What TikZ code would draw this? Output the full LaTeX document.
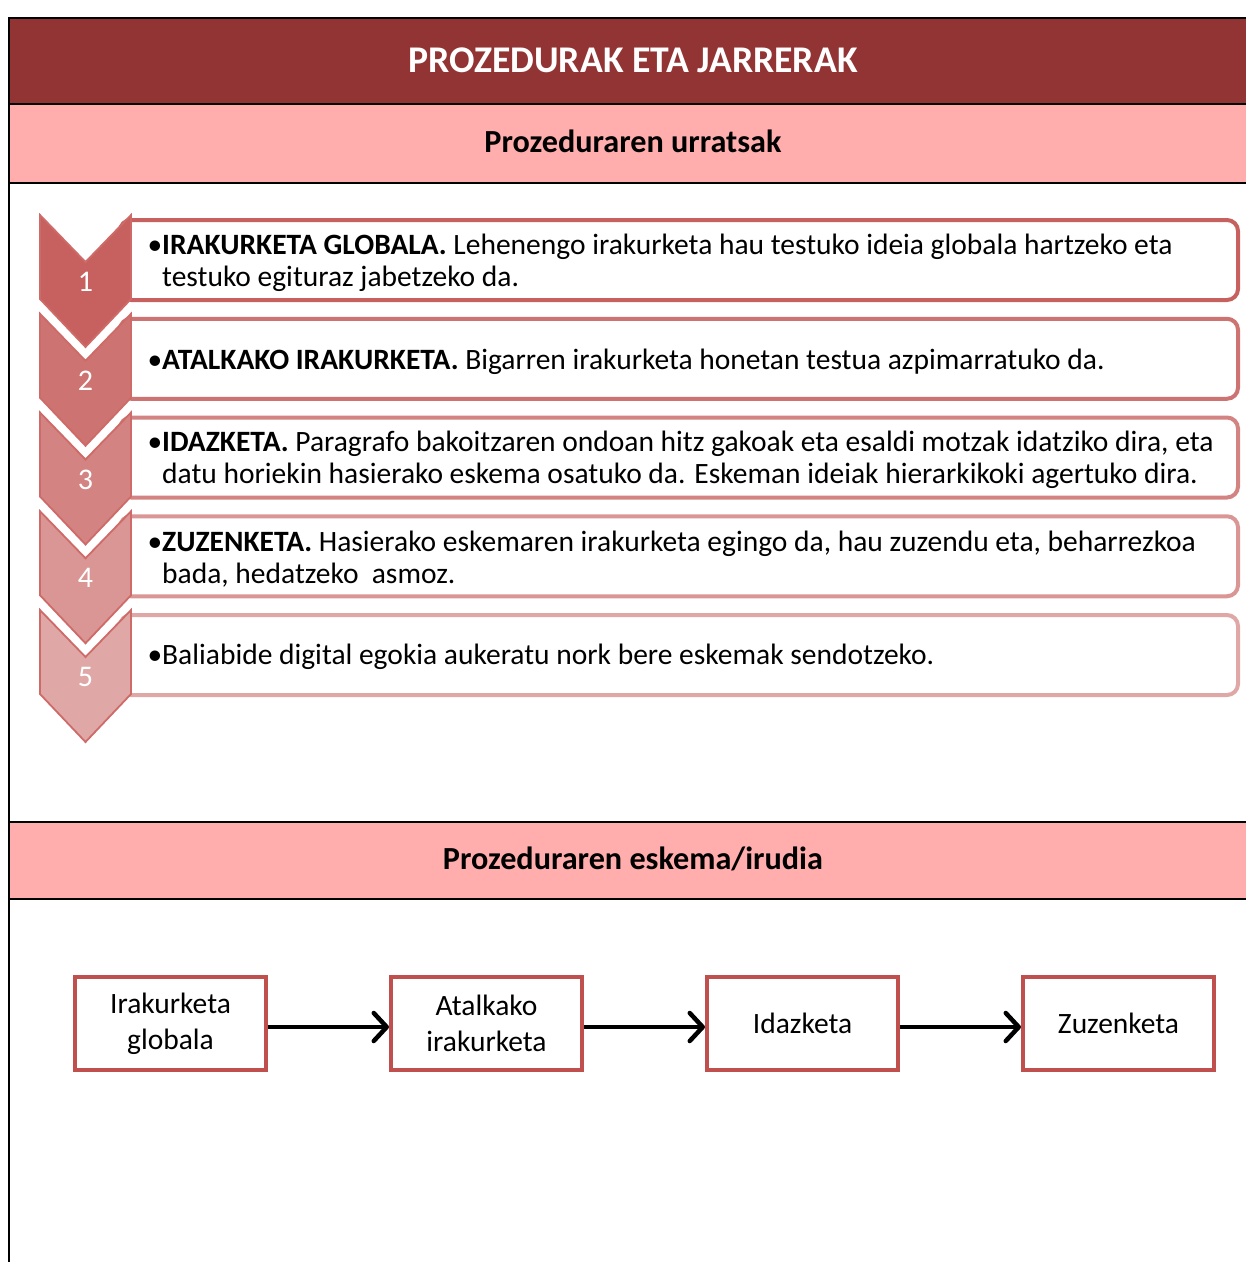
\documentclass[tikz,border=0pt]{standalone}
\usepackage{fontspec}
\setmainfont{Carlito}
\usetikzlibrary{arrows.meta}
\definecolor{acc}{RGB}{192,80,77}
\definecolor{titlered}{RGB}{147,52,52}
\definecolor{pinkband}{RGB}{255,173,173}
\definecolor{chevline}{RGB}{206,106,103}
\colorlet{c1}{acc!90!white}
\colorlet{c2}{acc!80!white}
\colorlet{c3}{acc!70!white}
\colorlet{c4}{acc!60!white}
\colorlet{c5}{acc!50!white}
\tikzset{
  frameline/.style={line width=2pt, black},
  chev/.style={draw=chevline, line width=1.8pt, line join=miter},
  stepbox/.style={line width=4pt, rounded corners=11pt, fill=white},
  steptext/.style={anchor=west, align=left, inner sep=0pt, font=\fontsize{29.5}{32}\selectfont},
  numtext/.style={text=white, inner sep=0pt, font=\fontsize{30}{32}\selectfont},
  flowbox/.style={draw=acc, line width=4pt, minimum width=191pt, minimum height=93pt, align=center, inner sep=0pt, font=\fontsize{29.5}{36}\selectfont},
  flowarrow/.style={line width=4.5pt, -{Straight Barb[length=13pt, width=28pt, line cap=round, line join=round]}},
}
\begin{document}
\begin{tikzpicture}[x=1pt, y=-1pt]
\useasboundingbox (0,0) rectangle (1246,1262);
% bands
\fill[titlered] (9,18) rectangle (1246,104);
\fill[pinkband] (9,104) rectangle (1246,183);
\fill[pinkband] (9,822) rectangle (1246,899);
\draw[frameline] (1246,18) -- (9,18) -- (9,1262);
\draw[frameline] (9,104) -- (1246,104);
\draw[frameline] (9,183) -- (1246,183);
\draw[frameline] (9,822) -- (1246,822);
\draw[frameline] (9,899) -- (1246,899);
\node[text=white, font=\fontsize{37.7}{40}\selectfont\bfseries] (title) at (633,60) {PROZEDURAK ETA JARRERAK};
\node[font=\fontsize{32.2}{36}\selectfont\bfseries] (sub1) at (633,141) {Prozeduraren urratsak};
\node[font=\fontsize{32.2}{36}\selectfont\bfseries] (sub2) at (633,859) {Prozeduraren eskema/irudia};
% step boxes and chevrons
\foreach \i/\T in {1/215, 2/313.75, 3/412.5, 4/511.25, 5/610} {
  \draw[stepbox, draw=c\i] (120,\T+5) rectangle (1238,\T+85);
}
\foreach \i/\T in {1/215, 2/313.75, 3/412.5, 4/511.25, 5/610} {
  \draw[chev, fill=c\i] (40,\T) -- (85.5,\T+47) -- (131,\T) -- (131,\T+84) -- (85.5,\T+132) -- (40,\T+84) -- cycle;
  \node[numtext] (n\i) at (85.5,\T+67) {\i};
}
\node[steptext] (t1) at (162,263) {\llap{•}\textbf{IRAKURKETA GLOBALA.} Lehenengo irakurketa hau testuko ideia globala hartzeko eta\\testuko egituraz jabetzeko da.};
\node[steptext] (t2) at (162,361.5) {\llap{•}\textbf{ATALKAKO IRAKURKETA.} Bigarren irakurketa honetan testua azpimarratuko da.};
\node[steptext] (t3) at (162,460) {\llap{•}\textbf{IDAZKETA.} Paragrafo bakoitzaren ondoan hitz gakoak eta esaldi motzak idatziko dira, eta\\datu horiekin hasierako eskema osatuko da. Eskeman ideiak hierarkikoki agertuko dira.};
\node[steptext] (t4) at (162,559) {\llap{•}\textbf{ZUZENKETA.} Hasierako eskemaren irakurketa egingo da, hau zuzendu eta, beharrezkoa\\bada, hedatzeko\ \ asmoz.};
\node[steptext] (t5) at (162,656.5) {\llap{•}Baliabide digital egokia aukeratu nork bere eskemak sendotzeko.};
% flow
\node[flowbox] (b1) at (170.5,1023.5) {\raisebox{-2pt}{Irakurketa}\\\raisebox{-2pt}{globala}};
\node[flowbox] (b2) at (486.5,1023.5) {Atalkako\\irakurketa};
\node[flowbox] (b3) at (802.5,1023.5) {Idazketa};
\node[flowbox] (b4) at (1118.5,1023.5) {Zuzenketa};
\draw[flowarrow] ([yshift=-3.5pt]b1.east) -- ([yshift=-3.5pt]b2.west);
\draw[flowarrow] ([yshift=-3.5pt]b2.east) -- ([yshift=-3.5pt]b3.west);
\draw[flowarrow] ([yshift=-3.5pt]b3.east) -- ([yshift=-3.5pt]b4.west);
\end{tikzpicture}
\end{document}
